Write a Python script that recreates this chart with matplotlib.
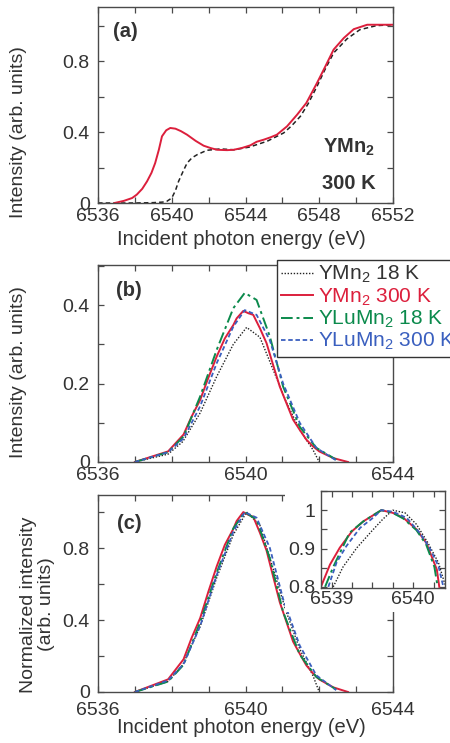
import numpy as np
import matplotlib
matplotlib.use('Agg')
import matplotlib.pyplot as plt
from matplotlib.patches import Rectangle
from matplotlib.ticker import MultipleLocator, FixedLocator

plt.rcParams['font.family'] = ['Liberation Sans', 'DejaVu Sans']
plt.rcParams['mathtext.fontset'] = 'custom'
plt.rcParams['mathtext.rm'] = 'Liberation Sans'
plt.rcParams['mathtext.bf'] = 'Liberation Sans:bold'
plt.rcParams['mathtext.default'] = 'rm'

TXT = '#333333'
EDGE = '#4a4a4a'
RED = '#dc1f3c'
GREEN = '#0b8a4c'
BLUE = '#3a5fbf'
BLACK = '#222222'

# ---- panel (a): XANES, YMn2 300 K (red) and reference (black dashed)
a_red_E = [6536.9, 6537.4, 6537.85, 6538.1, 6538.4, 6538.66, 6538.9, 6539.1, 6539.3, 6539.47,
           6539.7, 6539.92, 6540.2, 6540.5, 6540.83, 6541.3, 6541.73, 6542.1, 6542.46, 6543.0,
           6543.36, 6543.8, 6544.26, 6544.6, 6544.99, 6545.35, 6545.7, 6546.25, 6546.8, 6547.3,
           6547.88, 6548.33, 6548.78, 6549.33, 6549.87, 6550.6, 6551.3, 6552.0]
a_red_I = [0.0, 0.012, 0.028, 0.047, 0.08, 0.122, 0.17, 0.225, 0.3, 0.376,
           0.41, 0.423, 0.419, 0.405, 0.385, 0.35, 0.323, 0.31, 0.30, 0.298,
           0.30, 0.31, 0.325, 0.345, 0.357, 0.37, 0.385, 0.432, 0.498, 0.564,
           0.677, 0.77, 0.865, 0.93, 0.98, 1.005, 1.005, 1.005]
a_blk_E = [6536.0, 6537.0, 6538.0, 6539.0, 6539.5, 6539.74, 6540.0, 6540.2, 6540.37, 6540.6,
           6540.83, 6541.1, 6541.37, 6541.9, 6542.64, 6543.36, 6544.2, 6545.17, 6546.07, 6546.5,
           6546.98, 6547.4, 6547.88, 6548.3, 6548.78, 6549.5, 6550.2, 6551.1, 6552.0]
a_blk_I = [0.0, 0.0, 0.0, 0.002, 0.005, 0.01, 0.028, 0.07, 0.122, 0.175,
           0.225, 0.255, 0.272, 0.297, 0.305, 0.30, 0.315, 0.348, 0.395, 0.435,
           0.489, 0.56, 0.658, 0.75, 0.846, 0.925, 0.977, 1.0, 1.005]

# ---- panel (b): pre-edge peaks
ymn18_E = [6537.0, 6537.9, 6538.3, 6538.77, 6539.22, 6539.67, 6540.03, 6540.39, 6540.75,
           6541.1, 6541.47, 6541.83, 6542.0]
ymn18_I = [0.0, 0.02, 0.052, 0.125, 0.218, 0.30, 0.343, 0.318, 0.235,
           0.154, 0.082, 0.031, 0.0]
ymn300_E = [6537.0, 6537.9, 6538.32, 6538.54, 6538.77, 6538.99, 6539.22, 6539.44, 6539.67,
            6539.76, 6539.94, 6540.08, 6540.21, 6540.39, 6540.57, 6540.75, 6540.93, 6541.11,
            6541.29, 6541.47, 6541.65, 6541.83, 6542.0, 6542.38, 6542.78]
ymn300_I = [0.0, 0.027, 0.07, 0.116, 0.158, 0.214, 0.269, 0.315, 0.349,
            0.366, 0.385, 0.379, 0.375, 0.341, 0.303, 0.247, 0.192, 0.15,
            0.108, 0.082, 0.057, 0.04, 0.027, 0.01, 0.0]
ylu18_E = [6537.0, 6537.9, 6538.32, 6538.77, 6539.22, 6539.67, 6539.98, 6540.3, 6540.66,
           6541.02, 6541.47, 6541.92, 6542.46]
ylu18_I = [0.0, 0.025, 0.065, 0.167, 0.286, 0.392, 0.431, 0.413, 0.32,
           0.192, 0.09, 0.036, 0.006]
ylu300_E = [6537.0, 6537.9, 6538.32, 6538.77, 6539.22, 6539.67, 6539.98, 6540.3, 6540.66,
            6541.02, 6541.47, 6541.92, 6542.46]
ylu300_I = [0.0, 0.025, 0.06, 0.142, 0.252, 0.345, 0.387, 0.375, 0.31,
            0.2, 0.1, 0.036, 0.004]

# ---- inset of panel (c): normalized peak tops
in_ymn18_E = [6539.02, 6539.14, 6539.31, 6539.49, 6539.63, 6539.75, 6539.90, 6540.04, 6540.18, 6540.31, 6540.39]
in_ymn18_I = [0.80, 0.852, 0.902, 0.945, 0.977, 1.0, 0.993, 0.963, 0.915, 0.863, 0.806]
in_ymn300_E = [6538.85, 6538.98, 6539.10, 6539.25, 6539.39, 6539.61, 6539.75, 6539.88, 6540.04, 6540.16, 6540.29, 6540.32]
in_ymn300_I = [0.79, 0.858, 0.902, 0.945, 0.971, 1.0, 0.993, 0.980, 0.950, 0.915, 0.845, 0.80]
in_ylu18_E = [6538.92, 6539.02, 6539.22, 6539.39, 6539.61, 6539.75, 6539.88, 6540.04, 6540.16, 6540.26, 6540.30]
in_ylu18_I = [0.80, 0.852, 0.941, 0.971, 1.0, 0.993, 0.978, 0.948, 0.91, 0.852, 0.80]
in_ylu300_E = [6538.96, 6539.06, 6539.18, 6539.35, 6539.49, 6539.61, 6539.75, 6539.92, 6540.08, 6540.20, 6540.31, 6540.37]
in_ylu300_I = [0.80, 0.863, 0.906, 0.954, 0.977, 1.0, 0.996, 0.98, 0.941, 0.902, 0.854, 0.80]

series = [
    ('YMn$_2$ 18 K', ymn18_E, ymn18_I, in_ymn18_E, in_ymn18_I, BLACK, (0, (1, 1.2)), 1.0),
    ('YMn$_2$ 300 K', ymn300_E, ymn300_I, in_ymn300_E, in_ymn300_I, RED, '-', 1.4),
    ('YLuMn$_2$ 18 K', ylu18_E, ylu18_I, in_ylu18_E, in_ylu18_I, GREEN, (0, (6, 2, 1.5, 2)), 1.4),
    ('YLuMn$_2$ 300 K', ylu300_E, ylu300_I, in_ylu300_E, in_ylu300_I, BLUE, (0, (2.5, 1.5)), 1.3),
]

FS = 14       # tick labels
FL = 14.5     # axis labels
FB = 14.5     # bold annotations
W, H = 450, 743
fig = plt.figure(figsize=(W / 100, H / 100), dpi=100)


def box(l, t, r, b):
    return [l / W, 1 - b / H, (r - l) / W, (b - t) / H]


def style(ax, xpad=4, ypad=6):
    for s in ax.spines.values():
        s.set_color(EDGE)
        s.set_linewidth(1.0)
    ax.tick_params(which='both', direction='in', top=True, right=True, length=4.5,
                   width=0.9, color=EDGE, labelcolor=TXT, labelsize=FS)
    ax.tick_params(axis='x', pad=xpad)
    ax.tick_params(axis='y', pad=ypad)


ax_a = fig.add_axes(box(98, 7, 393, 203))
ax_b = fig.add_axes(box(98, 265, 393, 462))
ax_c = fig.add_axes(box(98, 495, 393, 692))

# panel (a)
ax_a.plot(a_blk_E, a_blk_I, color=BLACK, ls=(0, (3, 2)), lw=1.1)
ax_a.plot(a_red_E, a_red_I, color=RED, lw=1.4)
ax_a.set_xlim(6536, 6552)
ax_a.set_ylim(0, 1.105)
ax_a.xaxis.set_major_locator(FixedLocator([6536, 6540, 6544, 6548, 6552]))
ax_a.xaxis.set_minor_locator(MultipleLocator(2))
ax_a.yaxis.set_major_locator(FixedLocator([0, 0.4, 0.8]))
ax_a.yaxis.set_minor_locator(MultipleLocator(0.2))
ax_a.set_yticklabels(['0', '0.4', '0.8'])
style(ax_a, xpad=3.5)
ax_a.set_xlabel('Incident photon energy (eV)', fontsize=FL, color=TXT)
ax_a.xaxis.set_label_coords(0.485, -0.14)
ax_a.set_ylabel('Intensity (arb. units)', fontsize=FL - 0.5, color=TXT)
ax_a.yaxis.set_label_coords(-0.24, 0.36)
ax_a.text(0.05, 0.925, '(a)', transform=ax_a.transAxes, fontsize=FB, fontweight='bold',
          color=TXT, va='top', ha='left')
ax_a.text(0.94, 0.286, r'$\mathbf{YMn_2}$', transform=ax_a.transAxes, fontsize=FB,
          color=TXT, ha='right', va='center')
ax_a.text(0.94, 0.10, '300 K', transform=ax_a.transAxes, fontsize=FB, fontweight='bold',
          color=TXT, ha='right', va='center')

# panel (b)
handles = []
for lab, E, I, iE, iI, c, ls, lw in series:
    h, = ax_b.plot(E, I, color=c, ls=ls, lw=lw, label=lab)
    handles.append(h)
ax_b.set_xlim(6536, 6544)
ax_b.set_ylim(0, 0.502)
ax_b.xaxis.set_major_locator(FixedLocator([6536, 6540, 6544]))
ax_b.xaxis.set_minor_locator(MultipleLocator(1))
ax_b.yaxis.set_major_locator(FixedLocator([0, 0.2, 0.4]))
ax_b.yaxis.set_minor_locator(MultipleLocator(0.1))
ax_b.set_yticklabels(['0', '0.2', '0.4'])
style(ax_b, xpad=3.5)
ax_b.set_ylabel('Intensity (arb. units)', fontsize=FL - 0.5, color=TXT)
ax_b.yaxis.set_label_coords(-0.24, 0.457)
ax_b.text(0.061, 0.92, '(b)', transform=ax_b.transAxes, fontsize=FB, fontweight='bold',
          color=TXT, va='top', ha='left')
leg = ax_b.legend(handles=handles, loc='upper left', bbox_to_anchor=(277 / W, 1 - 260 / H),
                  bbox_transform=fig.transFigure, borderaxespad=0, fontsize=15,
                  fancybox=False, handlelength=1.55, handletextpad=0.2, borderpad=0.2,
                  labelspacing=0.05, framealpha=1)
leg.get_frame().set_edgecolor('#333333')
leg.get_frame().set_linewidth(1.0)
for t, (lab, E, I, iE, iI, c, ls, lw) in zip(leg.get_texts(), series):
    t.set_color(TXT if c == BLACK else c)

# panel (c): normalized
for lab, E, I, iE, iI, c, ls, lw in series:
    In = np.array(I) / max(I)
    ax_c.plot(E, In, color=c, ls=ls, lw=lw)
ax_c.set_xlim(6536, 6544)
ax_c.set_ylim(0, 1.095)
ax_c.xaxis.set_major_locator(FixedLocator([6536, 6540, 6544]))
ax_c.xaxis.set_minor_locator(MultipleLocator(1))
ax_c.yaxis.set_major_locator(FixedLocator([0, 0.4, 0.8]))
ax_c.yaxis.set_minor_locator(MultipleLocator(0.2))
ax_c.set_yticklabels(['0', '0.4', '0.8'])
style(ax_c, xpad=7)
ax_c.set_xlabel('Incident photon energy (eV)', fontsize=FL, color=TXT)
ax_c.xaxis.set_label_coords(0.485, -0.13)
ax_c.set_ylabel('Normalized intensity\n(arb. units)', fontsize=FL - 0.5, color=TXT,
                linespacing=1.1)
ax_c.yaxis.set_label_coords(-0.145, 0.444)
ax_c.text(0.064, 0.905, '(c)', transform=ax_c.transAxes, fontsize=FB, fontweight='bold',
          color=TXT, va='top', ha='left')

# white patch behind inset
fig.patches.append(Rectangle((285 / W, 1 - 612 / H), (W - 285) / W, (612 - 487) / H,
                             transform=fig.transFigure, facecolor='white', edgecolor='none',
                             zorder=5))

ax_in = fig.add_axes(box(321, 491, 445, 588))
ax_in.set_zorder(10)
for lab, E, I, iE, iI, c, ls, lw in series:
    ax_in.plot(iE, iI, color=c, ls=ls, lw=lw)
ax_in.set_xlim(6538.87, 6540.39)
ax_in.set_ylim(0.797, 1.05)
ax_in.xaxis.set_major_locator(FixedLocator([6539, 6540]))
ax_in.xaxis.set_minor_locator(MultipleLocator(0.25))
ax_in.yaxis.set_major_locator(FixedLocator([0.8, 0.9, 1.0]))
ax_in.yaxis.set_minor_locator(MultipleLocator(0.05))
ax_in.set_xticklabels(['6539', '6540'])
ax_in.set_yticklabels(['0.8', '0.9', '1'])
style(ax_in, xpad=2.5, ypad=4)

fig.savefig('out.png', dpi=100)
